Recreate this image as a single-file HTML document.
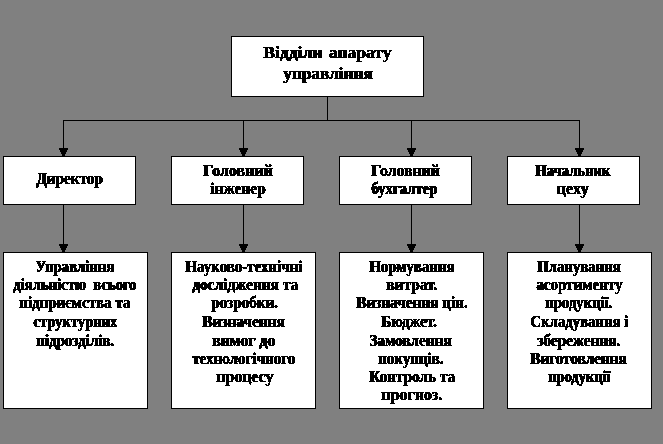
<!DOCTYPE html>
<html><head><meta charset="utf-8"><style>
html,body{margin:0;padding:0;}
body{width:663px;height:444px;background:#808080;position:relative;overflow:hidden;}
.b{position:absolute;box-sizing:border-box;border:1px solid #000;background:#fff;}
.l{position:absolute;background:#000;}
.t{position:absolute;font-family:"Liberation Serif",serif;font-weight:bold;color:#000;white-space:nowrap;line-height:20px;transform-origin:0 0;filter:url(#th);text-shadow:0.7px 0 0 #000;}
</style></head><body>
<svg width="0" height="0" style="position:absolute"><filter id="th" x="-10%" y="-10%" width="120%" height="120%"><feComponentTransfer><feFuncA type="discrete" tableValues="0 1 1"/></feComponentTransfer></filter></svg>
<div class="b" style="left:231px;top:36px;width:193px;height:61px"></div><div class="l" style="left:327px;top:97px;width:1px;height:24px"></div><div class="l" style="left:63px;top:120px;width:517px;height:1px"></div><div class="l" style="left:63px;top:120px;width:1px;height:28px"></div><div class="l" style="left:59px;top:148px;width:9px;height:2px"></div><div class="l" style="left:60px;top:150px;width:7px;height:2px"></div><div class="l" style="left:61px;top:152px;width:5px;height:2px"></div><div class="l" style="left:62px;top:154px;width:3px;height:2px"></div><div class="l" style="left:243px;top:120px;width:1px;height:28px"></div><div class="l" style="left:239px;top:148px;width:9px;height:2px"></div><div class="l" style="left:240px;top:150px;width:7px;height:2px"></div><div class="l" style="left:241px;top:152px;width:5px;height:2px"></div><div class="l" style="left:242px;top:154px;width:3px;height:2px"></div><div class="l" style="left:411px;top:120px;width:1px;height:28px"></div><div class="l" style="left:407px;top:148px;width:9px;height:2px"></div><div class="l" style="left:408px;top:150px;width:7px;height:2px"></div><div class="l" style="left:409px;top:152px;width:5px;height:2px"></div><div class="l" style="left:410px;top:154px;width:3px;height:2px"></div><div class="l" style="left:579px;top:120px;width:1px;height:28px"></div><div class="l" style="left:575px;top:148px;width:9px;height:2px"></div><div class="l" style="left:576px;top:150px;width:7px;height:2px"></div><div class="l" style="left:577px;top:152px;width:5px;height:2px"></div><div class="l" style="left:578px;top:154px;width:3px;height:2px"></div><div class="b" style="left:3px;top:156px;width:133px;height:49px"></div><div class="b" style="left:171px;top:156px;width:133px;height:49px"></div><div class="b" style="left:339px;top:156px;width:133px;height:49px"></div><div class="b" style="left:507px;top:156px;width:133px;height:49px"></div><div class="l" style="left:63px;top:205px;width:1px;height:39px"></div><div class="l" style="left:59px;top:244px;width:9px;height:2px"></div><div class="l" style="left:60px;top:246px;width:7px;height:2px"></div><div class="l" style="left:61px;top:248px;width:5px;height:2px"></div><div class="l" style="left:62px;top:250px;width:3px;height:2px"></div><div class="l" style="left:243px;top:205px;width:1px;height:39px"></div><div class="l" style="left:239px;top:244px;width:9px;height:2px"></div><div class="l" style="left:240px;top:246px;width:7px;height:2px"></div><div class="l" style="left:241px;top:248px;width:5px;height:2px"></div><div class="l" style="left:242px;top:250px;width:3px;height:2px"></div><div class="l" style="left:411px;top:205px;width:1px;height:39px"></div><div class="l" style="left:407px;top:244px;width:9px;height:2px"></div><div class="l" style="left:408px;top:246px;width:7px;height:2px"></div><div class="l" style="left:409px;top:248px;width:5px;height:2px"></div><div class="l" style="left:410px;top:250px;width:3px;height:2px"></div><div class="l" style="left:579px;top:205px;width:1px;height:39px"></div><div class="l" style="left:575px;top:244px;width:9px;height:2px"></div><div class="l" style="left:576px;top:246px;width:7px;height:2px"></div><div class="l" style="left:577px;top:248px;width:5px;height:2px"></div><div class="l" style="left:578px;top:250px;width:3px;height:2px"></div><div class="b" style="left:3px;top:252px;width:145px;height:157px"></div><div class="b" style="left:171px;top:252px;width:145px;height:157px"></div><div class="b" style="left:339px;top:252px;width:145px;height:157px"></div><div class="b" style="left:507px;top:252px;width:145px;height:157px"></div>
<div class="t" id="t0" style="left:263.00px;top:42.00px;font-size:17.5px;transform:scaleX(1.0021);word-spacing:2px">Відділи апарату</div><div class="t" id="t1" style="left:283.00px;top:63.00px;font-size:17.5px;transform:scaleX(0.9826);word-spacing:0px">управління</div><div class="t" id="t2" style="left:35.96px;top:169.00px;font-size:16px;transform:scaleX(0.9497);word-spacing:0px">Директор</div><div class="t" id="t3" style="left:203.00px;top:161.00px;font-size:16px;transform:scaleX(1.0004);word-spacing:0px">Головний</div><div class="t" id="t4" style="left:210.00px;top:179.00px;font-size:16px;transform:scaleX(0.9649);word-spacing:0px">інженер</div><div class="t" id="t5" style="left:370.99px;top:161.00px;font-size:16px;transform:scaleX(0.9857);word-spacing:0px">Головний</div><div class="t" id="t6" style="left:370.82px;top:179.00px;font-size:16px;transform:scaleX(0.9221);word-spacing:0px">бухгалтер</div><div class="t" id="t7" style="left:535.04px;top:161.00px;font-size:16px;transform:scaleX(0.9137);word-spacing:0px">Начальник</div><div class="t" id="t8" style="left:556.13px;top:179.00px;font-size:16px;transform:scaleX(1.0373);word-spacing:0px">цеху</div><div class="t" id="t9" style="left:34.61px;top:257.00px;font-size:16px;transform:scaleX(0.9230);word-spacing:0px">Управління</div><div class="t" id="t10" style="left:13.36px;top:275.00px;font-size:16px;transform:scaleX(0.9142);word-spacing:0px">діяльністю&nbsp; всього</div><div class="t" id="t11" style="left:18.81px;top:293.00px;font-size:16px;transform:scaleX(0.9363);word-spacing:0px">підприємства та</div><div class="t" id="t12" style="left:33.00px;top:312.00px;font-size:16px;transform:scaleX(0.9123);word-spacing:0px">структурних</div><div class="t" id="t13" style="left:35.98px;top:331.00px;font-size:16px;transform:scaleX(0.9335);word-spacing:0px">підрозділів.</div><div class="t" id="t14" style="left:185.00px;top:257.00px;font-size:16px;transform:scaleX(0.9361);word-spacing:0px">Науково-технічні</div><div class="t" id="t15" style="left:191.58px;top:275.00px;font-size:16px;transform:scaleX(0.9593);word-spacing:0px">дослідження та</div><div class="t" id="t16" style="left:211.00px;top:293.00px;font-size:16px;transform:scaleX(0.9431);word-spacing:0px">розробки.</div><div class="t" id="t17" style="left:202.01px;top:312.00px;font-size:16px;transform:scaleX(0.9591);word-spacing:0px">Визначення</div><div class="t" id="t18" style="left:211.77px;top:331.00px;font-size:16px;transform:scaleX(0.9847);word-spacing:0px">вимог до</div><div class="t" id="t19" style="left:192.21px;top:349.00px;font-size:16px;transform:scaleX(0.9399);word-spacing:0px">технологічного</div><div class="t" id="t20" style="left:215.97px;top:367.00px;font-size:16px;transform:scaleX(0.9921);word-spacing:0px">процесу</div><div class="t" id="t21" style="left:368.76px;top:257.00px;font-size:16px;transform:scaleX(0.9288);word-spacing:0px">Нормування</div><div class="t" id="t22" style="left:385.78px;top:275.00px;font-size:16px;transform:scaleX(0.9622);word-spacing:0px">витрат.</div><div class="t" id="t23" style="left:355.78px;top:293.00px;font-size:16px;transform:scaleX(0.9527);word-spacing:0px">Визначення цін.</div><div class="t" id="t24" style="left:381.43px;top:312.00px;font-size:16px;transform:scaleX(0.9392);word-spacing:0px">Бюджет.</div><div class="t" id="t25" style="left:369.05px;top:331.00px;font-size:16px;transform:scaleX(0.9531);word-spacing:0px">Замовлення</div><div class="t" id="t26" style="left:378.21px;top:349.00px;font-size:16px;transform:scaleX(0.9347);word-spacing:0px">покупців.</div><div class="t" id="t27" style="left:368.78px;top:367.00px;font-size:16px;transform:scaleX(0.9503);word-spacing:0px">Контроль та</div><div class="t" id="t28" style="left:380.98px;top:385.00px;font-size:16px;transform:scaleX(1.0003);word-spacing:0px">прогноз.</div><div class="t" id="t29" style="left:537.44px;top:257.00px;font-size:16px;transform:scaleX(0.9216);word-spacing:0px">Планування</div><div class="t" id="t30" style="left:535.84px;top:275.00px;font-size:16px;transform:scaleX(0.9393);word-spacing:0px">асортименту</div><div class="t" id="t31" style="left:545.22px;top:293.00px;font-size:16px;transform:scaleX(0.9172);word-spacing:0px">продукції.</div><div class="t" id="t32" style="left:529.85px;top:312.00px;font-size:16px;transform:scaleX(0.9239);word-spacing:0px">Складування і</div><div class="t" id="t33" style="left:537.42px;top:331.00px;font-size:16px;transform:scaleX(0.9532);word-spacing:0px">збереження.</div><div class="t" id="t34" style="left:530.02px;top:349.00px;font-size:16px;transform:scaleX(0.9501);word-spacing:0px">Виготовлення</div><div class="t" id="t35" style="left:547.81px;top:367.00px;font-size:16px;transform:scaleX(0.8991);word-spacing:0px">продукції</div>
</body></html>
